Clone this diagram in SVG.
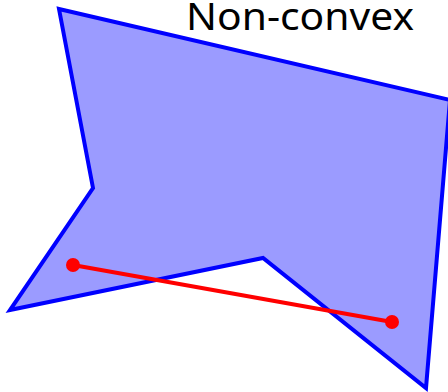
<svg xmlns="http://www.w3.org/2000/svg" width="448" height="392" viewBox="0 0 448 392">
<style>
.poly{fill:#9b9bff;stroke:#0000ff;stroke-width:4;stroke-linejoin:miter}
.seg{stroke:#ff0000;stroke-width:4;fill:none}
.pt{fill:#ff0000}
.lbl{font-family:"Noto Sans","Open Sans","DejaVu Sans",sans-serif;font-size:38px;fill:#000}
</style>
<rect width="448" height="392" fill="#ffffff"/>
<g id="polygon">
<polygon class="poly" points="59,9 450,100 426,388 263,258 10,310 93,188"/>
</g>
<g id="label">
<text class="lbl" x="186" y="30" textLength="228" lengthAdjust="spacingAndGlyphs">Non-convex</text>
</g>
<g id="connectors">
<line class="seg" x1="73" y1="265" x2="392" y2="322"/>
<circle class="pt" cx="73" cy="265" r="7"/>
<circle class="pt" cx="392" cy="322" r="7"/>
</g>
</svg>
